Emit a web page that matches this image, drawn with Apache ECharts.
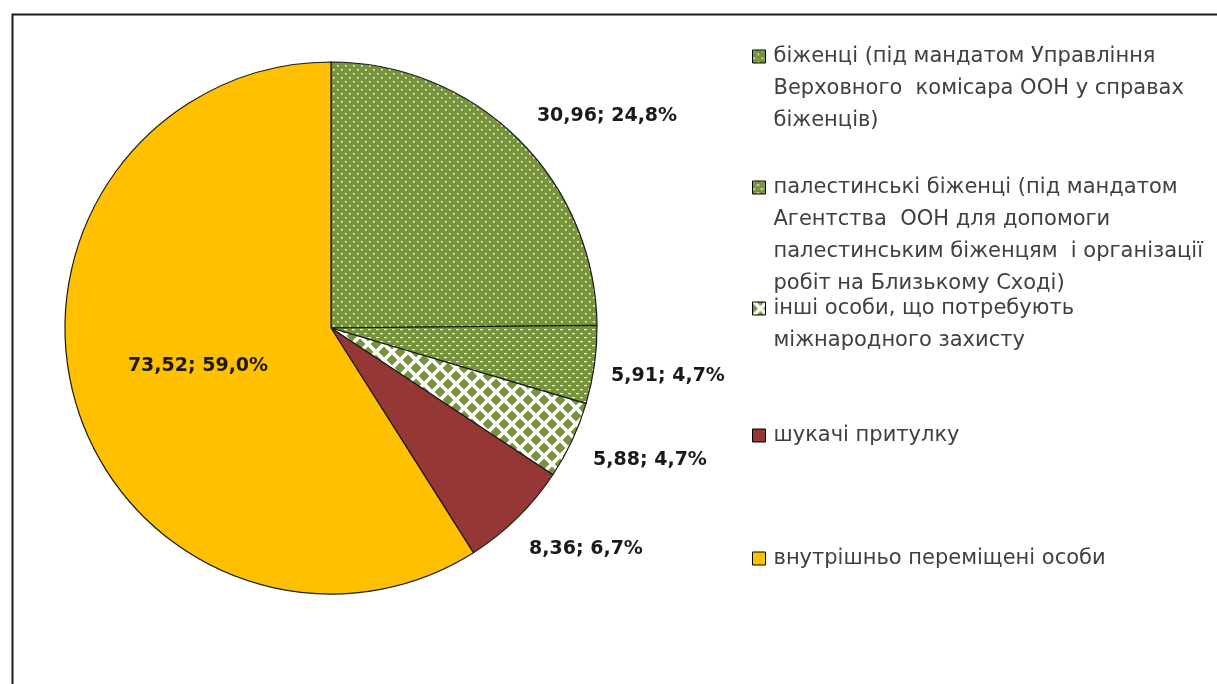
<!DOCTYPE html>
<html>
<head>
<meta charset="utf-8">
<title>pie</title>
<script src="https://cdn.jsdelivr.net/npm/echarts@6/dist/echarts.min.js"></script>
<style>
  html, body {margin: 0; padding: 0; background: #fff;}
  #chart {width: 1217px; height: 684px;}
</style>
</head>
<body>
<div id="chart"></div>
<script>
// дані
var names = [
    'біженці (під мандатом Управління\nВерховного  комісара ООН у справах\nбіженців)',
    'палестинські біженці (під мандатом\nАгентства  ООН для допомоги\nпалестинським біженцям  і організації\nробіт на Близькому Сході)',
    'інші особи, що потребують\nміжнародного захисту',
    'шукачі притулку',
    'внутрішньо переміщені особи'
];
var values = [30.96, 5.91, 5.88, 8.36, 73.52];

// розміщення підписів та легенди
var labelPos = [[607, 116], [668, 376], [650, 460], [586, 549], [198, 366]];
var legendFirstLine = [56, 187, 308, 435, 558];
var lineH = 32;

var green = '#77933C';

function makeTile(size, draw) {
    var c = document.createElement('canvas');
    c.width = size;
    c.height = size;
    draw(c.getContext('2d'), size);
    return c;
}

// крапки
var dots = makeTile(8, function (ctx, s) {
    ctx.fillStyle = green;
    ctx.fillRect(0, 0, s, s);
    ctx.fillStyle = 'rgba(255,255,255,0.95)';
    ctx.fillRect(1, 1, 1.6, 1.6);
    ctx.fillRect(5, 5, 1.6, 1.6);
});
// штрихи
var dashes = makeTile(8, function (ctx, s) {
    ctx.fillStyle = green;
    ctx.fillRect(0, 0, s, s);
    ctx.fillStyle = 'rgba(255,255,255,0.9)';
    ctx.fillRect(0, 1, 3, 1.2);
    ctx.fillRect(4, 5, 3, 1.2);
});
// шахівниця
var checker = makeTile(16, function (ctx, s) {
    ctx.fillStyle = '#fff';
    ctx.fillRect(0, 0, s, s);
    ctx.fillStyle = green;
    var h = 5.4;
    [[0, 0], [16, 0], [0, 16], [16, 16], [8, 8]].forEach(function (p) {
        ctx.beginPath();
        ctx.moveTo(p[0], p[1] - h);
        ctx.lineTo(p[0] + h, p[1]);
        ctx.lineTo(p[0], p[1] + h);
        ctx.lineTo(p[0] - h, p[1]);
        ctx.closePath();
        ctx.fill();
    });
});

var colors = [
    {image: dots, repeat: 'repeat'},
    {image: dashes, repeat: 'repeat'},
    {image: checker, repeat: 'repeat'},
    '#953735',
    '#FFC000'
];

var total = values.reduce(function (a, b) { return a + b; }, 0);

function fmtNum(v, d) {
    return v.toFixed(d).replace('.', ',');
}

var pieData = [];
for (var i = 0; i < values.length; i++) {
    var item = {name: names[i], value: values[i], itemStyle: {color: colors[i]}};
    if (i === 4) {
        item.label = {position: 'inside'};
    }
    pieData.push(item);
}

// квадратик легенди зверху, висота = кількість рядків тексту
function iconPath(lines) {
    var h = lines * lineH;
    var y = (lineH - 13) / 2;
    return 'path://M0,' + y + 'h13v13h-13z M0,0 M13,' + h;
}

var legends = names.map(function (n, i) {
    var lines = n.split('\n').length;
    return {
        data: [n],
        left: 752,
        top: legendFirstLine[i] - lineH / 2,
        padding: 0,
        icon: iconPath(lines),
        itemWidth: 13,
        itemHeight: lines * lineH,
        itemGap: 0,
        selectedMode: false,
        itemStyle: {borderColor: '#000', borderWidth: 1},
        textStyle: {
            fontFamily: 'DejaVu Sans',
            fontSize: 21,
            color: '#404040',
            lineHeight: lineH,
            padding: [0, 0, 0, 3]
        }
    };
});

var option = {
    animation: false,
    backgroundColor: '#fff',
    graphic: [{
        type: 'rect',
        left: 10,
        top: 12,
        shape: {width: 1260, height: 720},
        style: {fill: 'none', stroke: '#1a1a1a', lineWidth: 2},
        silent: true
    }],
    legend: legends,
    series: [{
        type: 'pie',
        center: [331, 328],
        radius: 266,
        startAngle: 90,
        clockwise: true,
        data: pieData,
        itemStyle: {borderColor: '#1a1a1a', borderWidth: 1.2},
        emphasis: {disabled: true},
        label: {
            show: true,
            position: 'outside',
            fontFamily: 'DejaVu Sans',
            fontWeight: 'bold',
            fontSize: 19,
            color: '#1a1a1a',
            formatter: function (p) {
                return fmtNum(p.value, 2) + '; ' + fmtNum(p.value / total * 100, 1) + '%';
            }
        },
        labelLine: {show: false},
        labelLayout: function (p) {
            var pos = labelPos[p.dataIndex];
            return {x: pos[0], y: pos[1], align: 'center', verticalAlign: 'middle'};
        }
    }]
};

var chart = echarts.init(document.getElementById('chart'));
chart.setOption(option);
</script>
</body>
</html>
